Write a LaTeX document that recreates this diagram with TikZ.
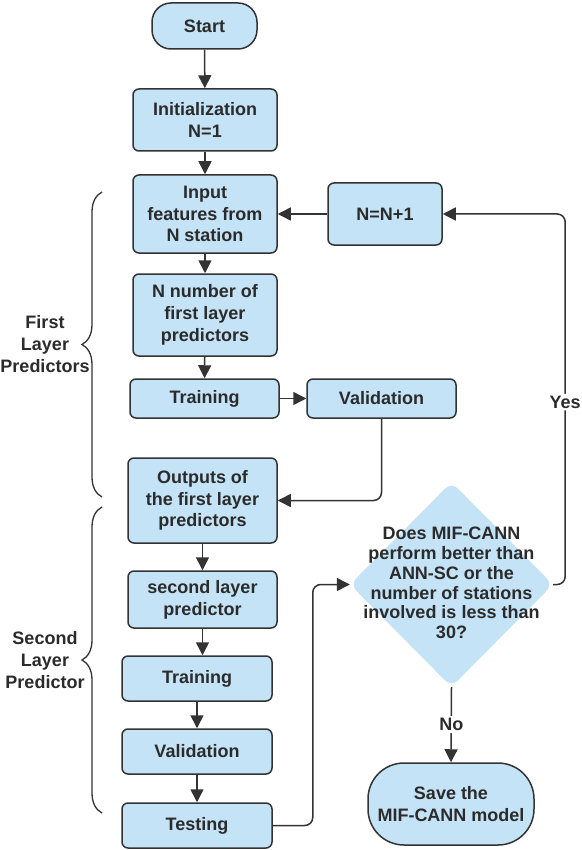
\documentclass[tikz,border=0pt]{standalone}
\usepackage{fontspec}
\setmainfont{Liberation Sans}
\usetikzlibrary{shapes.geometric,arrows.meta,decorations.pathreplacing}
\definecolor{boxc}{HTML}{C4E3F6}
\definecolor{linec}{HTML}{333333}
\definecolor{textc}{HTML}{2B2B2B}
\begin{document}
\begin{tikzpicture}[x=1pt,y=-1pt,
  base/.style={draw=linec, fill=boxc, line width=1.5pt, text=textc,
    font=\bfseries\fontsize{18}{21.7}\selectfont, align=center, inner sep=0pt},
  procbox/.style={base, rounded corners=6pt},
  termbox/.style={base, rounded corners=#1},
  arr/.style={draw=linec, line width=1.5pt, -{Triangle[width=13pt,length=13pt]}},
  lbl/.style={text=textc, font=\bfseries\fontsize{18}{21.7}\selectfont, align=center, inner sep=2pt},
  brc/.style={draw=linec, line width=1.3pt, decorate, decoration={brace, amplitude=20pt}}]
\useasboundingbox (0,0) rectangle (581,850);
\fill[white] (0,0) rectangle (581,850);

\node[termbox=19pt, minimum width=105pt, minimum height=46pt] (start) at (204.5,26) {Start};
\node[procbox, minimum width=144pt, minimum height=62pt] (init) at (205,120) {Initialization\\N=1};
\node[procbox, minimum width=144pt, minimum height=78pt] (input) at (205,214) {Input\\features from\\N station};
\node[procbox, minimum width=144pt, minimum height=82pt] (nnum) at (205,315) {N number of\\first layer\\predictors};
\node[procbox, minimum width=149pt, minimum height=39pt] (train1) at (204.5,398.5) {Training};
\node[procbox, minimum width=149pt, minimum height=39pt] (val1) at (381.5,398.5) {Validation};
\node[procbox, minimum width=149pt, minimum height=85pt] (out) at (202.5,500.5) {Outputs of\\the first layer\\predictors};
\node[procbox, minimum width=114pt, minimum height=62pt] (inc) at (385,214) {N=N+1};
\node[procbox, minimum width=149pt, minimum height=57pt] (sec) at (202.5,599.5) {second layer\\predictor};
\node[procbox, minimum width=150pt, minimum height=45pt] (train2) at (197,678.5) {Training};
\node[procbox, minimum width=150pt, minimum height=45pt] (val2) at (197,751.5) {Validation};
\node[procbox, minimum width=150pt, minimum height=45pt] (test) at (197,825.5) {Testing};
\node[diamond, fill=boxc, draw=none, rounded corners=9pt, minimum width=203pt, minimum height=205pt, inner sep=0pt] (dec) at (451.5,584.5) {};
\node[lbl, font=\bfseries\fontsize{18}{19.8}\selectfont] (dectext) at (451.5,583) {Does MIF-CANN\\perform better than\\ANN-SC or the\\number of stations\\involved is less than\\30?};
\node[termbox=36pt, minimum width=166pt, minimum height=82pt] (save) at (451,804) {Save the\\MIF-CANN model};

\draw[arr] (start) -- (init);
\draw[arr] (init) -- (input);
\draw[arr] (input) -- (nnum);
\draw[arr] (nnum) -- (train1);
\draw[arr] (train1) -- (val1);
\draw[arr, rounded corners=8pt] (val1.south) |- (out.east);
\draw[arr] (out.south) -- (out.south |- sec.north);
\draw[arr] (sec.south) -- (sec.south |- train2.north);
\draw[arr] (train2) -- (val2);
\draw[arr] (val2) -- (test);
\draw[arr, rounded corners=8pt] (test.east) -- ++(40,0) |- (dec.west);
\draw[arr, rounded corners=8pt] (dec.east) -- ++(12,0) |- (inc.east)
  node[lbl, fill=white, pos=0.246] (yes) {Yes};
\draw[arr] (inc) -- (input);
\draw[arr] (dec.south) -- (save.north) node[lbl, fill=white, midway] (no) {No};

\draw[brc] (102,497) -- (102,192);
\draw[brc] (102,813) -- (102,507);
\node[lbl] (first) at (45,344) {First\\Layer\\Predictors};
\node[lbl] (second) at (45,660) {Second\\Layer\\Predictor};
\end{tikzpicture}
\end{document}
